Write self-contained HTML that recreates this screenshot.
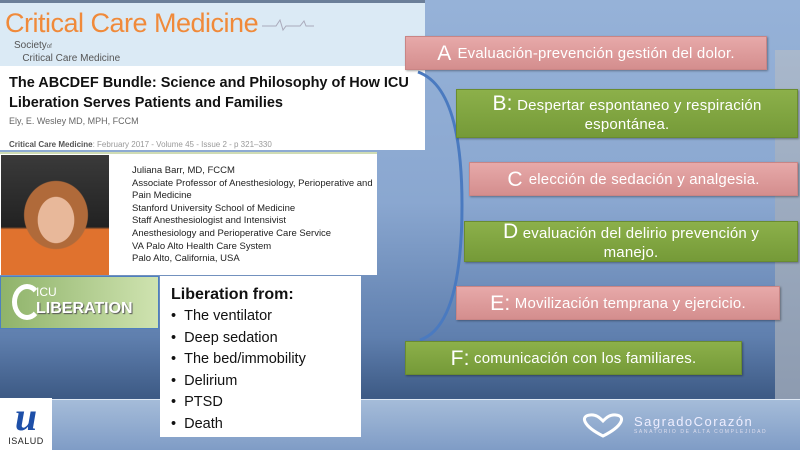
<!DOCTYPE html>
<html><head><meta charset="utf-8"><style>
*{margin:0;padding:0;box-sizing:border-box}
body{width:800px;height:450px;overflow:hidden;position:relative;font-family:"Liberation Sans",sans-serif;background:linear-gradient(180deg,#96b2d8 0%,#8aa7d0 45%,#5f7fae 75%,#3e5b86 88%)}
.abs{position:absolute}
.bottom{left:0;top:399px;width:800px;height:51px;background:linear-gradient(180deg,#a5bcd9,#7f9cc6);border-top:1px solid #dfe8f4}
.gray{left:775px;top:50px;width:25px;height:349px;background:linear-gradient(180deg,#a9b8cc,#8d9bb0)}
.box{position:absolute;color:#fff;font-size:15px;text-align:center;display:flex;align-items:center;justify-content:center;line-height:19px;box-shadow:1px 1px 2px rgba(0,0,0,.35);letter-spacing:.2px}
.pink{background:linear-gradient(180deg,#e7a9a9,#d48e8e);border:1px solid #c98585}
.green{background:linear-gradient(180deg,#8cb04a,#759a38);border:1px solid #6a8c30}
.big{font-size:21px}
</style></head><body>
<div class="abs gray"></div>
<div class="abs bottom"></div>
<!-- top image -->
<div class="abs" style="left:0;top:0;width:425px;height:150px;background:#fff"></div>
<div class="abs" style="left:0;top:0;width:425px;height:3px;background:#6b7f99"></div>
<div class="abs" style="left:0;top:3px;width:425px;height:63px;background:#dbeaf5"></div>
<div class="abs" style="left:5px;top:8px;font-size:27px;color:#f08a3a;letter-spacing:-.5px">Critical Care Medicine</div>
<svg class="abs" style="left:262px;top:18px" width="52" height="14"><polyline points="0,8 14,8 18,2 21,12 24,8 38,8 42,3 44,8 52,8" fill="none" stroke="#aab" stroke-width="1"/></svg>
<div class="abs" style="left:14px;top:40px;font-size:10px;color:#555;line-height:11px">Society<span style="font-size:6px">of</span><br>&nbsp;&nbsp;&nbsp;Critical Care Medicine</div>
<div class="abs" style="left:9px;top:73px;font-size:14.5px;font-weight:bold;color:#111;line-height:20px;width:425px;white-space:nowrap">The ABCDEF Bundle: Science and Philosophy of How ICU<br>Liberation Serves Patients and Families</div>
<div class="abs" style="left:9px;top:116px;font-size:9px;color:#666">Ely, E. Wesley MD, MPH, FCCM</div>
<div class="abs" style="left:9px;top:140px;font-size:8px;color:#999"><b style="color:#555">Critical Care Medicine</b>: February 2017 - Volume 45 - Issue 2 - p 321–330</div>
<!-- second image -->
<div class="abs" style="left:0;top:152px;width:377px;height:123px;background:#fff;border-top:2px solid #cfdcb4"></div>
<div class="abs" style="left:1px;top:155px;width:108px;height:120px;background:radial-gradient(ellipse 30px 38px at 55px 65px,#e8b89a 60%,transparent 62%),radial-gradient(ellipse 45px 48px at 55px 60px,#b06a3a 70%,transparent 72%),linear-gradient(180deg,#3a3a3a,#222 60%,#e0722e 62%,#e0722e)"></div>
<div class="abs" style="left:132px;top:165px;font-size:9.5px;color:#222;line-height:12.6px">Juliana Barr, MD, FCCM<br>Associate Professor of Anesthesiology, Perioperative and<br>Pain Medicine<br>Stanford University School of Medicine<br>Staff Anesthesiologist and Intensivist<br>Anesthesiology and Perioperative Care Service<br>VA Palo Alto Health Care System<br>Palo Alto, California, USA</div>
<!-- ICU liberation -->
<div class="abs" style="left:0;top:276px;width:159px;height:53px;background:linear-gradient(90deg,#8fb36a,#cfe3b0);border:1px solid #4d7fbf"></div>
<div class="abs" style="left:12px;top:284px;width:30px;height:36px;border:5px solid #fff;border-right-color:transparent;border-radius:50%"></div>
<div class="abs" style="left:36px;top:285px;font-size:12px;color:#fff">ICU</div>
<div class="abs" style="left:36px;top:300px;font-size:16px;font-weight:bold;color:#fff;text-shadow:1px 1px 1px #555">LIBERATION</div>
<!-- liberation list -->
<div class="abs" style="left:160px;top:276px;width:201px;height:161px;background:#fff;padding:8px 0 0 11px;font-family:'Liberation Sans',sans-serif;color:#111">
<div style="font-size:16px;font-weight:bold;line-height:22px">Liberation from:</div>
<div style="font-size:14.5px;line-height:21.5px">•&nbsp;&nbsp;The ventilator<br>•&nbsp;&nbsp;Deep sedation<br>•&nbsp;&nbsp;The bed/immobility<br>•&nbsp;&nbsp;Delirium<br>•&nbsp;&nbsp;PTSD<br>•&nbsp;&nbsp;Death</div></div>
<!-- isalud -->
<div class="abs" style="left:0;top:398px;width:52px;height:52px;background:#fff;text-align:center">
<div style="font-family:'Liberation Serif',serif;font-style:italic;font-weight:bold;font-size:40px;color:#1d4fa8;line-height:38px">u</div>
<div style="font-size:9px;color:#222;letter-spacing:.5px">ISALUD</div></div>
<!-- arc -->
<svg class="abs" style="left:0;top:0" width="800" height="450"><path d="M418,72 C455,85 462,150 462,205 C462,280 450,330 420,340" fill="none" stroke="#4a7ac0" stroke-width="3"/></svg>
<!-- boxes -->
<div class="box pink" style="left:405px;top:36px;width:362px;height:34px"><span class="big">A&nbsp;</span>Evaluación-prevención gestión del dolor.</div>
<div class="box green" style="left:456px;top:89px;width:342px;height:49px;flex-direction:column"><div><span class="big">B:</span> Despertar espontaneo y respiración</div><div>espontánea.</div></div>
<div class="box pink" style="left:469px;top:162px;width:329px;height:34px"><span class="big">C&nbsp;</span> elección de sedación y analgesia.</div>
<div class="box green" style="left:464px;top:221px;width:334px;height:41px;flex-direction:column"><div><span class="big">D</span> evaluación del delirio prevención y</div><div>manejo.</div></div>
<div class="box pink" style="left:456px;top:286px;width:324px;height:34px"><span class="big">E:</span>&nbsp;Movilización temprana y ejercicio.</div>
<div class="box green" style="left:405px;top:341px;width:337px;height:34px"><span class="big">F:</span>&nbsp;comunicación con los familiares.</div>
<!-- logo -->
<svg class="abs" style="left:578px;top:412px" width="50" height="28"><path d="M25,24 C5,14 2,4 12,3 C18,2 22,6 25,9 C28,6 32,2 38,3 C48,4 45,14 25,24Z" fill="none" stroke="#fff" stroke-width="3"/></svg>
<div class="abs" style="left:634px;top:414px;font-size:13px;color:#eef;letter-spacing:1.5px">SagradoCorazón</div>
<div class="abs" style="left:634px;top:429px;font-size:5px;color:#dde;letter-spacing:1.6px">SANATORIO DE ALTA COMPLEJIDAD</div>
</body></html>
